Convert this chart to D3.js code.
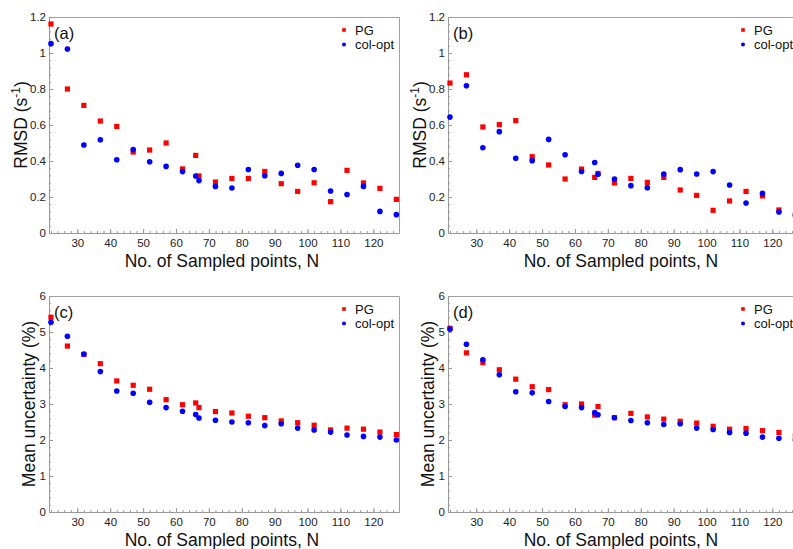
<!DOCTYPE html>
<html>
<head>
<meta charset="utf-8">
<script src="https://cdn.jsdelivr.net/npm/d3@7"></script>
<style>
  body { margin: 0; background: #fff; }
  svg { display: block; font-family: "Liberation Sans", Arial, Helvetica, sans-serif; }
</style>
</head>
<body>
<svg id="chart" width="793" height="549"></svg>
<script>
// number of sampled points (x values shared by all panels)
var nSampled = [22, 27, 32, 37, 42, 47, 52, 57, 62, 66, 67, 72, 77, 82, 87, 92, 97, 102, 107, 112, 117, 122, 127];

// (a) RMSD
var rmsdA_PG  = [1.161, 0.80, 0.709, 0.622, 0.592, 0.45, 0.461, 0.50, 0.356, 0.431, 0.317, 0.283, 0.303, 0.303, 0.342, 0.274, 0.231, 0.279, 0.174, 0.348, 0.278, 0.248, 0.187];
var rmsdA_col = [1.052, 1.022, 0.489, 0.518, 0.407, 0.464, 0.396, 0.37, 0.341, 0.317, 0.291, 0.259, 0.25, 0.353, 0.318, 0.331, 0.376, 0.353, 0.233, 0.214, 0.259, 0.12, 0.102];

// (b) RMSD
var rmsdB_PG  = [0.833, 0.879, 0.589, 0.602, 0.624, 0.424, 0.378, 0.30, 0.355, 0.309, 0.331, 0.278, 0.303, 0.281, 0.309, 0.239, 0.209, 0.126, 0.178, 0.231, 0.206, 0.128, 0.10];
var rmsdB_col = [0.644, 0.818, 0.474, 0.563, 0.415, 0.402, 0.52, 0.435, 0.342, 0.392, 0.326, 0.30, 0.263, 0.252, 0.328, 0.352, 0.328, 0.341, 0.267, 0.167, 0.22, 0.117, 0.10];

// (c) mean uncertainty
var uncC_PG  = [5.41, 4.61, 4.375, 4.12, 3.64, 3.52, 3.41, 3.12, 2.98, 3.03, 2.9, 2.79, 2.75, 2.66, 2.62, 2.53, 2.48, 2.41, 2.28, 2.33, 2.3, 2.22, 2.15];
var uncC_col = [5.27, 4.88, 4.39, 3.9, 3.36, 3.3, 3.05, 2.9, 2.8, 2.71, 2.61, 2.55, 2.5, 2.48, 2.4, 2.45, 2.33, 2.28, 2.22, 2.14, 2.1, 2.08, 2.0];

// (d) mean uncertainty
var uncD_PG  = [5.1, 4.42, 4.15, 3.95, 3.69, 3.48, 3.4, 2.98, 3.0, 2.69, 2.93, 2.62, 2.74, 2.64, 2.58, 2.52, 2.47, 2.38, 2.3, 2.32, 2.26, 2.21, 2.12];
var uncD_col = [5.08, 4.66, 4.23, 3.81, 3.34, 3.31, 3.07, 2.93, 2.9, 2.76, 2.7, 2.62, 2.54, 2.48, 2.43, 2.45, 2.33, 2.29, 2.21, 2.19, 2.08, 2.05, 2.0];

var xTicks = [30, 40, 50, 60, 70, 80, 90, 100, 110, 120];
var rmsdTicks = [0, 0.2, 0.4, 0.6, 0.8, 1, 1.2];
var uncTicks = [0, 1, 2, 3, 4, 5, 6];
var seriesNames = ['PG', 'col-opt'];

var svg = d3.select('#chart'),
  pw = 350,
  ph = 216;

function drawPanel(left, top, tag, pg, col, yMax, yTicks, yMinorStep, titleOffset, kind) {
  var g = svg.append('g').attr('transform', 'translate(' + left + ',' + top + ')');

  var x = d3.scaleLinear().domain([21.4, 127.8]).range([0, pw]);
  var y = d3.scaleLinear().domain([0, yMax]).range([ph, 0]);

  // frame (top and right)
  g.append('path')
    .attr('d', 'M0.5,0.5H' + (pw + 0.5) + 'V' + (ph + 0.5))
    .attr('fill', 'none')
    .attr('stroke', '#a0a0a0');

  // minor ticks
  g.append('g')
    .attr('transform', 'translate(0,' + ph + ')')
    .call(d3.axisBottom(x).tickValues(d3.range(22, 128, 2)).tickSizeInner(-2).tickSizeOuter(0).tickFormat(''))
    .call(function(s) { s.select('.domain').remove(); s.selectAll('line').attr('stroke', '#999'); });
  g.append('g')
    .call(d3.axisLeft(y).tickValues(d3.range(0, yMax + 1e-9, yMinorStep)).tickSizeInner(-2).tickSizeOuter(0).tickFormat(''))
    .call(function(s) { s.select('.domain').remove(); s.selectAll('line').attr('stroke', '#999'); });

  // major axes
  g.append('g')
    .attr('transform', 'translate(0,' + ph + ')')
    .call(d3.axisBottom(x).tickValues(xTicks).tickSizeInner(-4).tickSizeOuter(0).tickPadding(6))
    .call(function(s) {
      s.select('.domain').attr('stroke', '#999');
      s.selectAll('line').attr('stroke', '#999');
      s.selectAll('text').attr('font-size', 11.5).attr('fill', '#222').attr('font-family', null);
    });
  g.append('g')
    .call(d3.axisLeft(y).tickValues(yTicks).tickSizeInner(-4).tickSizeOuter(0).tickPadding(3).tickFormat(d3.format('~g')))
    .call(function(s) {
      s.select('.domain').attr('stroke', '#999');
      s.selectAll('line').attr('stroke', '#999');
      s.selectAll('text').attr('font-size', 11.5).attr('fill', '#222').attr('font-family', null);
    });

  // points: PG squares first, col-opt circles on top
  var pts = nSampled.map(function(n, i) { return { n: n, pg: pg[i], col: col[i] }; });
  g.append('g').selectAll('rect')
    .data(pts)
    .enter()
    .append('rect')
    .attr('x', function(d) { return x(d.n) - 2.6; })
    .attr('y', function(d) { return y(d.pg) - 2.6; })
    .attr('width', 5.2)
    .attr('height', 5.2)
    .attr('fill', '#ff0000');
  g.append('g').selectAll('circle')
    .data(pts)
    .enter()
    .append('circle')
    .attr('cx', function(d) { return x(d.n); })
    .attr('cy', function(d) { return y(d.col); })
    .attr('r', 2.8)
    .attr('fill', '#0000ff');

  // panel tag
  g.append('text')
    .attr('x', 5)
    .attr('y', 22)
    .attr('font-size', 16.5)
    .attr('fill', '#111')
    .text(tag);

  // legend
  var lg = g.append('g').attr('transform', 'translate(295,13)');
  lg.append('rect').attr('x', -1.8).attr('y', -1.8).attr('width', 3.6).attr('height', 3.6).attr('fill', '#ff0000');
  lg.append('circle').attr('cx', 0).attr('cy', 14.5).attr('r', 2).attr('fill', '#0000ff');
  lg.selectAll('text')
    .data(seriesNames)
    .enter()
    .append('text')
    .attr('x', 11)
    .attr('y', function(d, i) { return 4.5 + i * 14.5; })
    .attr('font-size', 13)
    .attr('fill', '#111')
    .text(function(d) { return d; });

  // x title
  g.append('text')
    .attr('x', pw / 2 - 2)
    .attr('y', ph + 34)
    .attr('text-anchor', 'middle')
    .attr('font-size', 17.5)
    .attr('fill', '#111')
    .text('No. of Sampled points, N');

  // y title
  var yt = g.append('text')
    .attr('transform', 'translate(' + titleOffset + ',' + (ph / 2) + ')rotate(-90)')
    .attr('text-anchor', 'middle')
    .attr('font-size', 17.5)
    .attr('fill', '#111');
  if (kind === 'rmsd') {
    yt.append('tspan').text('RMSD (s');
    yt.append('tspan').attr('font-size', 12).attr('dy', -7).text('-1');
    yt.append('tspan').attr('dy', 7).text(')');
  } else {
    yt.text('Mean uncertainty (%)');
  }
}

drawPanel(49, 17, '(a)', rmsdA_PG, rmsdA_col, 1.2, rmsdTicks, 0.04, -22.5, 'rmsd');
drawPanel(448, 17, '(b)', rmsdB_PG, rmsdB_col, 1.2, rmsdTicks, 0.04, -22.5, 'rmsd');
drawPanel(49, 296, '(c)', uncC_PG, uncC_col, 6, uncTicks, 0.2, -13.7, 'unc');
drawPanel(448, 296, '(d)', uncD_PG, uncD_col, 6, uncTicks, 0.2, -13.7, 'unc');
</script>
</body>
</html>
